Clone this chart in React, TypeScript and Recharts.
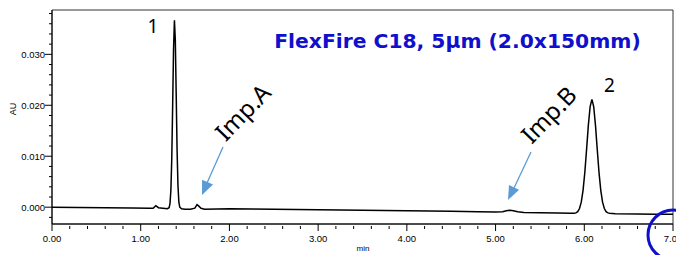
import React from 'react';
import { LineChart, Line, XAxis, YAxis, ReferenceArea } from 'recharts';

const times: number[] = [
  0.0, 0.3, 0.6, 0.9, 1.1, 1.14, 1.17, 1.2, 1.25, 1.3,
  1.32, 1.33, 1.34, 1.35, 1.36, 1.37, 1.38, 1.39, 1.4, 1.41,
  1.42, 1.43, 1.44, 1.46, 1.5, 1.56, 1.61, 1.635, 1.655, 1.68,
  1.72, 2.0, 2.5, 3.0, 3.5, 4.0, 4.5, 4.8, 5.0, 5.08,
  5.12, 5.16, 5.2, 5.25, 5.32, 5.5, 5.7, 5.85, 5.886, 5.906,
  5.926, 5.946, 5.966, 5.986, 6.006, 6.026, 6.046, 6.066, 6.086, 6.106,
  6.126, 6.146, 6.166, 6.186, 6.206, 6.226, 6.246, 6.266, 6.286, 6.35,
  6.6, 6.8, 7.0,
];

const absorbance: number[] = [
  0.0, -0.00005, -0.0001, -0.00015, -0.0002, -0.0002, 0.0003, -0.0001, -0.0002, -0.0003,
  -0.0001, 0.0007, 0.0033, 0.0095, 0.0198, 0.031, 0.0367, 0.0328, 0.0221, 0.0112,
  0.0042, 0.001, 0.0, -0.0003, -0.0004, -0.0004, -0.0002, 0.0005, 0.0002, -0.0002,
  -0.0004, -0.0003, -0.0004, -0.0005, -0.0006, -0.0007, -0.0008, -0.0009, -0.00095, -0.0009,
  -0.0007, -0.0006, -0.0007, -0.0009, -0.00105, -0.0011, -0.00115, -0.0012, -0.00121, -0.00112,
  -0.00087, -0.00026, 0.00099, 0.0033, 0.00681, 0.01136, 0.01611, 0.01976, 0.02115, 0.01976,
  0.01611, 0.01136, 0.00681, 0.0033, 0.00099, -0.00026, -0.00087, -0.00112, -0.00121, -0.0013,
  -0.00135, -0.0014, -0.0014,
];

const xTicks: number[] = [
  0, 0.2, 0.4, 0.6, 0.8, 1, 1.2, 1.4, 1.6, 1.8, 2, 2.2, 2.4, 2.6, 2.8, 3, 3.2, 3.4, 3.6, 3.8,
  4, 4.2, 4.4, 4.6, 4.8, 5, 5.2, 5.4, 5.6, 5.8, 6, 6.2, 6.4, 6.6, 6.8, 7,
];

const yTicks: number[] = [
  -0.002, 0, 0.002, 0.004, 0.006, 0.008, 0.01, 0.012, 0.014, 0.016, 0.018, 0.02,
  0.022, 0.024, 0.026, 0.028, 0.03, 0.032, 0.034, 0.036, 0.038,
];

const xDomain: [number, number] = [0, 7];
const yDomain: [number, number] = [-0.0033, 0.0387];

const peakLabels = ['1', '2'];
const impurityLabels = ['Imp.A', 'Imp.B'];
const title = 'FlexFire C18, 5μm (2.0x150mm)';

const data = times.map((t, i) => ({ t, au: absorbance[i] }));

const tickFont = '"Liberation Sans", Arial, sans-serif';

const XTick = (props: any) => {
  const { x, y, payload } = props;
  const v = payload.value as number;
  const major = Math.abs(v - Math.round(v)) < 1e-6;
  return (
    <g>
      <line x1={x} x2={x} y1={major ? y : y + 2} y2={major ? y + 7 : y + 5} stroke="#000" strokeWidth={1} />
      {major && (
        <text x={x} y={y + 18} textAnchor="middle" fontSize={9.5} fontFamily={tickFont} fill="#000">
          {v.toFixed(2)}
        </text>
      )}
    </g>
  );
};

const YTick = (props: any) => {
  const { x, y, payload } = props;
  const v = payload.value as number;
  const major = Math.abs(v * 100 - Math.round(v * 100)) < 1e-6;
  return (
    <g>
      <line x1={major ? x - 7 : x - 3} x2={x} y1={y} y2={y} stroke="#000" strokeWidth={1} />
      {major && (
        <text x={x - 7} y={y} dy="0.35em" textAnchor="end" fontSize={9.5} fontFamily={tickFont} fill="#000">
          {v.toFixed(3)}
        </text>
      )}
    </g>
  );
};

const labelFont = '"Noto Sans", "Open Sans", sans-serif';
const arrowColor = '#5B9BD5';
const titleColor = '#1010CC';

export default function App() {
  return (
    <div style={{ position: 'absolute', left: 0, top: 0, width: 676, height: 255, background: '#fff' }}>
      <LineChart width={676} height={255} data={data} margin={{ top: 10, right: 3, left: 0, bottom: 0 }}>
        <XAxis
          dataKey="t"
          type="number"
          domain={xDomain}
          ticks={xTicks}
          interval={0}
          allowDataOverflow
          tickSize={0}
          tickMargin={0}
          tickLine={false}
          tick={<XTick />}
          height={31}
          stroke="#000"
        />
        <YAxis
          type="number"
          domain={yDomain}
          ticks={yTicks}
          interval={0}
          allowDataOverflow
          tickSize={0}
          tickMargin={0}
          tickLine={false}
          tick={<YTick />}
          width={52}
          stroke="#000"
        />
        <ReferenceArea x1={xDomain[0]} x2={xDomain[1]} y1={yDomain[0]} y2={yDomain[1]} fill="none" stroke="#333" strokeWidth={1} ifOverflow="visible" />
        <Line type="linear" dataKey="au" stroke="#000" strokeWidth={1.5} dot={false} isAnimationActive={false} />
      </LineChart>
      <svg width={676} height={255} style={{ position: 'absolute', left: 0, top: 0, pointerEvents: 'none' }}>
        <text x={13} y={109} transform="rotate(-90 13 109)" textAnchor="middle" dy="0.35em" fontSize={9} fontFamily={tickFont} fill="#000">AU</text>
        <text x={363} y={251} textAnchor="middle" fontSize={8} fontFamily={tickFont} fill="#000">min</text>
        <text x={457.5} y={48} textAnchor="middle" fontSize={20.3} fontWeight="bold" fontFamily='"DejaVu Sans", Verdana, sans-serif' fill={titleColor}>{title}</text>
        <text x={153} y={33} textAnchor="middle" fontSize={19} fontFamily={labelFont} fill="#000">{peakLabels[0]}</text>
        <text x={609.5} y={92} textAnchor="middle" fontSize={19} fontFamily={labelFont} fill="#000">{peakLabels[1]}</text>
        <text x={243} y={112.5} transform="rotate(-46 243 112.5)" textAnchor="middle" dy="0.35em" fontSize={24} fontFamily={labelFont} fill="#000">{impurityLabels[0]}</text>
        <text x={549} y={115} transform="rotate(-46 549 115)" textAnchor="middle" dy="0.35em" fontSize={24} fontFamily={labelFont} fill="#000">{impurityLabels[1]}</text>
        <line x1={223} y1={147} x2={207} y2={183} stroke={arrowColor} strokeWidth={1.3} />
        <polygon points="202,195 213.1,184.6 202.1,179.8" fill={arrowColor} />
        <line x1={531} y1={152} x2={514} y2={188} stroke={arrowColor} strokeWidth={1.3} />
        <polygon points="508,200 519,189.8 509,185" fill={arrowColor} />
        <circle cx={673} cy={235} r={25} fill="none" stroke={titleColor} strokeWidth={3} />
      </svg>
    </div>
  );
}
